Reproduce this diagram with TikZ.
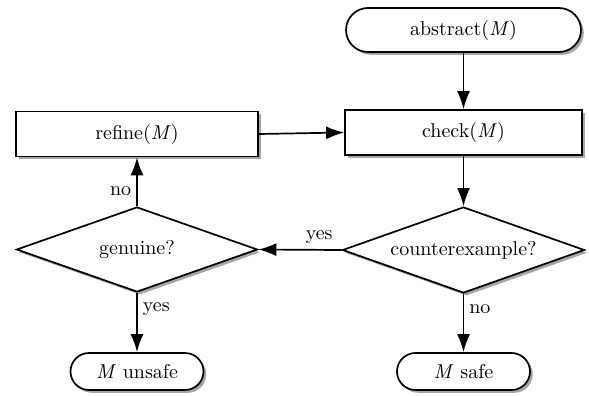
\documentclass[tikz,border=0pt]{standalone}
\usetikzlibrary{shapes.geometric,shadows,arrows.meta}
\begin{document}
\begin{tikzpicture}[x=0.5pt,y=-0.5pt,
  base/.style={draw, line width=0.85pt, fill=white, inner sep=0pt,
    drop shadow={shadow xshift=1.4pt, shadow yshift=-1.4pt, opacity=0.7}},
  procbox/.style={base, rectangle, minimum height=22.5pt},
  termbox/.style={base, rectangle},
  decbox/.style={base, diamond, aspect=2.8, minimum width=121pt, minimum height=43pt},
  arr/.style={-{Latex[length=9pt,width=6.5pt]}, line width=0.85pt},
  lbl/.style={inner sep=2.5pt}
]
\useasboundingbox (0,0) rectangle (589,396);
\node[termbox, rounded corners=11pt, minimum width=117.5pt, minimum height=22pt] (abs) at (463.5,30) {abstract(\textit{M})};
\node[procbox, minimum width=118.5pt] (chk) at (463.5,132.5) {check(\textit{M})};
\node[procbox, minimum width=121pt] (ref) at (137,134) {refine(\textit{M})};
\node[decbox] (cex) at (463.5,250) {counterexample?};
\node[decbox, minimum width=120.5pt, minimum height=42.5pt] (gen) at (137,249.5) {genuine?};
\node[termbox, rounded corners=9.25pt, minimum width=66.5pt, minimum height=18.5pt] (uns) at (137,371.5) {\textit{M} unsafe};
\node[termbox, rounded corners=9.25pt, minimum width=66.5pt, minimum height=18.5pt] (saf) at (463.5,371.5) {\textit{M} safe};

\draw[arr] (abs) -- (chk);
\draw[arr] (ref.east) -- (chk.west);
\draw[arr] (chk) -- (cex);
\draw[arr] (cex.west) -- node[lbl, above, pos=0.27] {yes} (gen.east);
\draw[arr] (gen.north) -- node[lbl, left, pos=0.3] {no} (ref.south);
\draw[arr] (gen.south) -- node[lbl, right, pos=0.27] {yes} (uns.north);
\draw[arr] (cex.south) -- node[lbl, right, pos=0.27] {no} (saf.north);
\end{tikzpicture}
\end{document}
